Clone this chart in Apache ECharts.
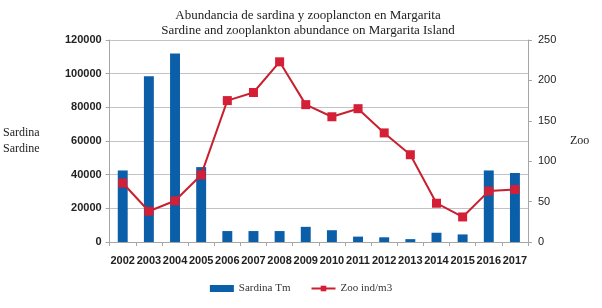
<!DOCTYPE html>
<html>
<head>
<meta charset="utf-8">
<script src="https://cdn.jsdelivr.net/npm/echarts@6/dist/echarts.min.js"></script>
<style>
  html, body { margin: 0; padding: 0; background: #fff; }
  #chart { width: 602px; height: 308px; }
</style>
</head>
<body>
<div id="chart"></div>
<script>
const years = ['2002', '2003', '2004', '2005', '2006', '2007', '2008', '2009',
  '2010', '2011', '2012', '2013', '2014', '2015', '2016', '2017'];
const sardina = [42500, 98500, 112000, 44500, 6500, 6500, 6500, 9000,
  7000, 3200, 2800, 1700, 5500, 4500, 42500, 41000];
const zoo = [73, 38, 51, 83, 175, 185, 223, 170, 155, 165, 135, 108, 48, 31, 63, 65];

const axisGray = '#a6a6a6';
var myChart = echarts.init(document.getElementById('chart'));
myChart.setOption({
  animation: false,
  title: {
    text: 'Abundancia de sardina y zooplancton en Margarita\nSardine and zooplankton abundance on Margarita Island',
    left: 303, top: 3, textAlign: 'center',
    textStyle: { fontFamily: 'Liberation Serif', fontWeight: 'normal', fontSize: 13, color: '#222', lineHeight: 15 }
  },
  grid: { left: 94, right: 74, top: 40, bottom: 66 },
  legend: {
    bottom: 9, left: 'center', itemGap: 20,
    textStyle: { fontFamily: 'Liberation Serif', fontSize: 11, color: '#333' },
    data: [
      { name: 'Sardina Tm', icon: 'rect' },
      { name: 'Zoo ind/m3' }
    ],
    itemWidth: 24, itemHeight: 7
  },
  xAxis: {
    type: 'category', data: years,
    axisLine: { lineStyle: { color: axisGray } },
    axisTick: { show: true, alignWithLabel: false, length: 4, lineStyle: { color: axisGray } },
    axisLabel: { color: '#222', fontFamily: 'Liberation Sans', fontWeight: 'bold', fontSize: 11, margin: 13, interval: 0 }
  },
  yAxis: [
    {
      type: 'value', min: 0, max: 120000, interval: 20000,
      name: 'Sardina\nSardine', nameLocation: 'middle', nameRotate: 0, nameGap: 70,
      nameTextStyle: { fontFamily: 'Liberation Serif', fontSize: 12, color: '#222', lineHeight: 16 },
      axisLine: { show: true, lineStyle: { color: axisGray } },
      axisTick: { show: true, length: 4, lineStyle: { color: axisGray } },
      axisLabel: {
        color: '#222', fontFamily: 'Liberation Sans', fontWeight: 'bold', fontSize: 11, margin: 8,
        formatter: (v) => String(v)
      },
      splitLine: { lineStyle: { color: '#c0c4c8', width: 1 } }
    },
    {
      type: 'value', min: 0, max: 250, interval: 50,
      name: 'Zoo', nameLocation: 'middle', nameRotate: 0, nameGap: 42,
      nameTextStyle: { fontFamily: 'Liberation Serif', fontSize: 12, color: '#222' },
      axisLine: { show: true, lineStyle: { color: axisGray } },
      axisTick: { show: true, length: 4, lineStyle: { color: axisGray } },
      axisLabel: { color: '#222', fontFamily: 'Liberation Sans', fontSize: 11, margin: 10 },
      splitLine: { show: false }
    }
  ],
  series: [
    {
      name: 'Sardina Tm', type: 'bar', yAxisIndex: 0, data: sardina,
      barWidth: '38%', itemStyle: { color: '#0b5fa8' }
    },
    {
      name: 'Zoo ind/m3', type: 'line', yAxisIndex: 1, data: zoo,
      symbol: 'rect', symbolSize: 9,
      lineStyle: { color: '#c8202f', width: 2 },
      itemStyle: { color: '#d41f36' }
    }
  ]
});
</script>
</body>
</html>
